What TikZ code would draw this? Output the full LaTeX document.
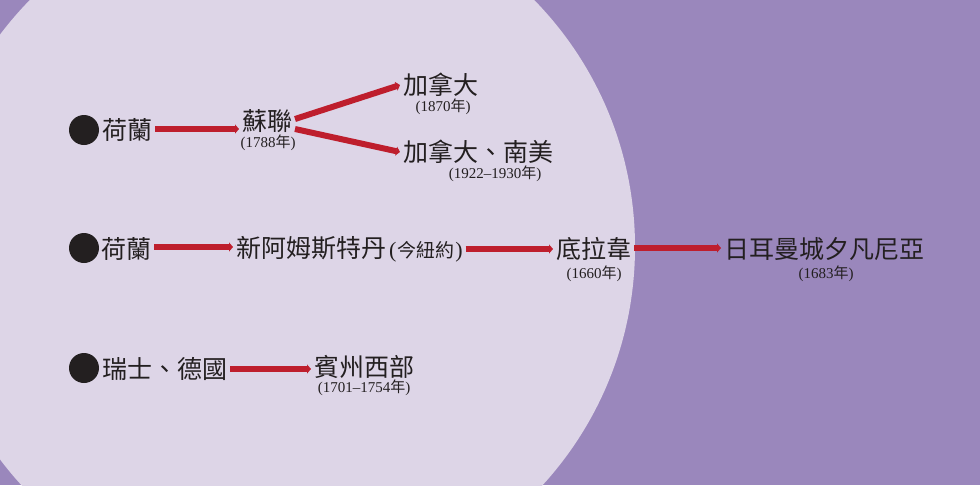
\documentclass[tikz,border=0pt]{standalone}
\usepackage{fontspec}
\setmainfont{Liberation Serif}
\newfontfamily\cjk{Noto Sans CJK TC}
\usepackage{tikz}
\usetikzlibrary{shapes,arrows.meta,positioning}

\definecolor{bgpurple}{HTML}{9A87BC}
\definecolor{disc}{HTML}{DDD5E7}
\definecolor{arrowred}{HTML}{BE1E2D}
\definecolor{ink}{HTML}{231F20}

\tikzset{
	place/.style={font=\cjk\fontsize{25}{25}\selectfont, text=ink, inner sep=0pt, outer sep=3pt, anchor=west},
	year/.style={font=\fontsize{15}{15}\selectfont, text=ink, inner sep=0pt},
	move/.style={draw=arrowred, line width=6pt, -{Triangle[length=4pt,width=9pt]}},
	spot/.style={circle, fill=ink, minimum size=30pt, inner sep=0pt}
}

\begin{document}
\begin{tikzpicture}[x=1pt,y=-1pt]
				\useasboundingbox (0,0) rectangle (980,485);
				\begin{scope}
				\clip (0,0) rectangle (980,485);
				\fill [bgpurple] (0,0) rectangle (980,485);
				\fill [disc] (282,247) circle (353pt);
				\end{scope}

				% first row
				\node [spot]	(dotA) at (84,130) {};
				\node [place]	(nlA) at (99,130) {荷蘭};
				\node [place]	(su) at (239,121) {蘇聯};
				\node [year]	(suY) at (268,143) {(1788{\cjk 年})};
				\node [place]	(ca) at (400,85) {加拿大};
				\node [year]	(caY) at (443,107) {(1870{\cjk 年})};
				\node [place]	(cs) at (400,152) {加拿大、南美};
				\node [year]	(csY) at (495,174) {(1922--1930{\cjk 年})};

				\draw [move]	([yshift=1pt]nlA.east) -- ([yshift=1pt]nlA.east -| su.west);
				\draw [move]	([yshift=2pt]su.east) -- (ca.west);
				\draw [move]	([yshift=-8pt]su.east) -- (cs.west);

				% second row
				\node [spot]	(dotB) at (84,248) {};
				\node [place]	(nlB) at (98,249) {荷蘭};
				\node [place]	(nam) at (233,249) {新阿姆斯特丹\hspace{3pt}{\fontsize{19}{19}\selectfont{\fontsize{22}{22}\selectfont\normalfont(}\hspace{1pt}今紐約\hspace{1pt}{\fontsize{22}{22}\selectfont\normalfont)}}};
				\node [place]	(la) at (553,249) {底拉韋};
				\node [year]	(laY) at (594,274) {(1660{\cjk 年})};
				\node [place]	(ge) at (721,249) {日耳曼城夕凡尼亞};
				\node [year]	(geY) at (826,274) {(1683{\cjk 年})};

				\draw [move]	([yshift=2pt]nlB.east) -- ([yshift=2pt]nlB.east -| nam.west);
				\draw [move]	(nam) -- (la);
				\draw [move]	([yshift=1pt]la.east) -- ([yshift=1pt]la.east -| ge.west);

				% third row
				\node [spot]	(dotC) at (84,368) {};
				\node [place]	(sw) at (99,369) {瑞士、德國};
				\node [place]	(pa) at (311,367) {賓州西部};
				\node [year]	(paY) at (364,388) {(1701--1754{\cjk 年})};

				\draw [move]	(sw.east) -- (sw.east -| pa.west);
\end{tikzpicture}
\end{document}
